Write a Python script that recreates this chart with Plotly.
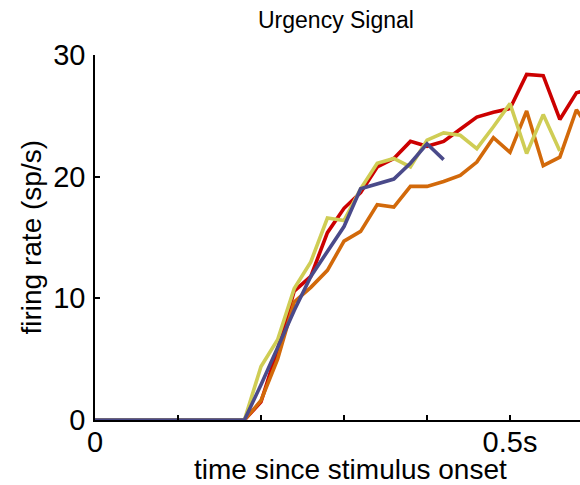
import plotly.graph_objects as go

time_s = [0.00, 0.02, 0.04, 0.06, 0.08, 0.10, 0.12, 0.14, 0.16, 0.18,
          0.20, 0.22, 0.24, 0.26, 0.28, 0.30, 0.32, 0.34, 0.36, 0.38,
          0.40, 0.42, 0.44, 0.46, 0.48, 0.50, 0.52, 0.54, 0.56, 0.58, 0.60]

red_rate = [0, 0, 0, 0, 0, 0, 0, 0, 0, 0,
            1.5, 5.8, 10.6, 11.8, 15.4, 17.4, 18.7, 20.8, 21.5, 22.9,
            22.5, 22.9, 23.9, 24.9, 25.3, 25.6, 28.4, 28.3, 24.7, 26.9, 27.2]

orange_rate = [0, 0, 0, 0, 0, 0, 0, 0, 0, 0,
               1.6, 5.0, 9.7, 10.9, 12.3, 14.7, 15.5, 17.7, 17.5, 19.2,
               19.2, 19.6, 20.1, 21.2, 23.2, 22.0, 25.4, 20.9, 21.6, 25.5, 23.5]

yellow_rate = [0, 0, 0, 0, 0, 0, 0, 0, 0, 0,
               4.4, 6.6, 10.8, 13.0, 16.6, 16.4, 19.0, 21.1, 21.5, 20.8,
               23.0, 23.6, 23.4, 22.3, 24.1, 26.0, 21.9, 25.1, 22.1]

blue_rate = [0, 0, 0, 0, 0, 0, 0, 0, 0, 0,
             2.9, 5.9, 9.0, 11.8, 13.8, 15.9, 19.0, 19.4, 19.8, 21.1,
             22.7, 21.4]

series = [
    (red_rate, "#cc0000"),
    (orange_rate, "#d2690a"),
    (yellow_rate, "#cfcd55"),
    (blue_rate, "#4a4a8a"),
]

x_tickvals = [0, 0.1, 0.2, 0.3, 0.4, 0.5]
x_ticktext = ["0", "", "", "", "", "0.5s"]
y_tickvals = [0, 10, 20, 30]
y_ticktext = ["0", "10", "20", "30"]

FONT = "Liberation Sans, Arial, sans-serif"

fig = go.Figure()
for vals, col in series:
    fig.add_trace(go.Scatter(
        x=time_s[:len(vals)], y=vals, mode="lines",
        line=dict(color=col, width=3.6), showlegend=False, hoverinfo="skip"))

fig.update_layout(
    width=580, height=485,
    margin=dict(l=95, r=0, t=55, b=65),
    paper_bgcolor="white", plot_bgcolor="white",
    font=dict(family=FONT, size=28, color="black"),
    xaxis=dict(range=[0, 0.5843], tickvals=x_tickvals, ticktext=x_ticktext,
               showline=True, linecolor="black", linewidth=1.5,
               ticks="inside", ticklen=5, tickwidth=1.5, tickcolor="black",
               showgrid=False, zeroline=False, tickfont=dict(size=29),
               ticklabelstandoff=-5),
    yaxis=dict(range=[0, 30], tickvals=y_tickvals, ticktext=y_ticktext,
               showline=True, linecolor="black", linewidth=1.5,
               ticks="inside", ticklen=5, tickwidth=1.5, tickcolor="black",
               showgrid=False, zeroline=False, tickfont=dict(size=29),
               ticklabelstandoff=2),
    annotations=[
        dict(text="Urgency Signal", xref="paper", yref="paper",
             x=(336 - 95) / 485, y=1.0, yshift=35, showarrow=False,
             font=dict(size=23), xanchor="center", yanchor="middle"),
        dict(text="time since stimulus onset", xref="paper", yref="paper",
             x=(350 - 95) / 485, y=0, yshift=-49, showarrow=False,
             font=dict(size=28), xanchor="center", yanchor="middle"),
        dict(text="firing rate (sp/s)", xref="paper", yref="paper",
             x=0, xshift=-64, y=0.5, showarrow=False, textangle=-90,
             font=dict(size=28), xanchor="center", yanchor="middle"),
    ],
)

fig.write_html("out.html")
